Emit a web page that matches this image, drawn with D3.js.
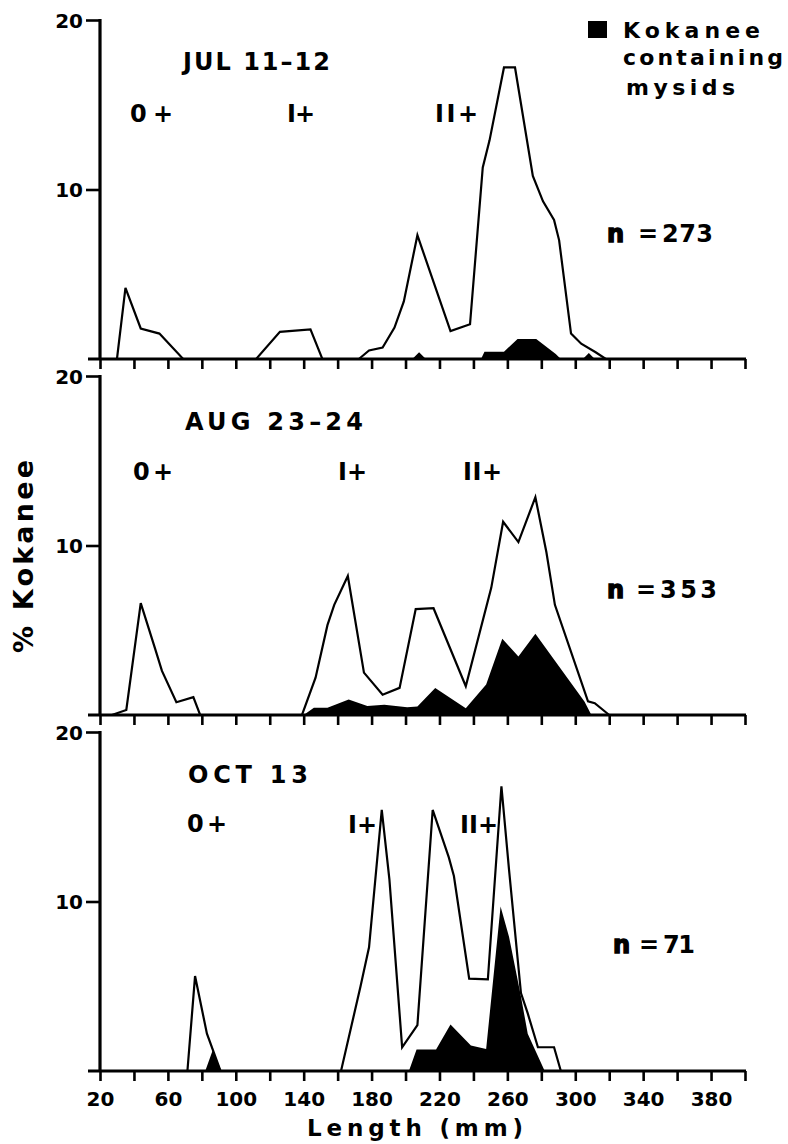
<!DOCTYPE html>
<html><head><meta charset="utf-8">
<script src="https://cdn.jsdelivr.net/npm/d3@7"></script>
<style>
html,body{margin:0;padding:0;background:#fff;}
text{font-family:"DejaVu Sans",Verdana,sans-serif;font-weight:bold;fill:#000;}
</style></head>
<body><svg id="c" width="788" height="1144"></svg>
<script>
// ---- data (length mm, % kokanee) ----
const julLen = [20,30,35,44,55,69,112,126,144,151,172.5,178.5,186.5,193.5,199,207,226.5,238,245.5,249.5,258,264.5,275,281,287.5,290.5,297.5,303.5,312,318,400];
const julPct = [0,0,4.2,1.8,1.5,0,0,1.6,1.75,0,0,0.5,0.68,1.85,3.4,7.3,1.65,2.05,11.3,12.9,17.2,17.2,10.8,9.3,8.2,7.0,1.5,0.9,0.4,0,0];
const julMysLen = [20,204,208,212,244.5,246.5,258,266,277,288.5,291.5,304.5,308,311.5,400];
const julMysPct = [0,0,0.4,0,0,0.43,0.43,1.18,1.18,0.3,0,0,0.35,0,0];

const augLen = [20,27,35.5,44,52.5,56.5,65,75,79,139,147,154,158,166,175.5,186.5,196.5,206,216.5,235.5,250.5,257.5,266.5,276.5,283,288,307.5,311.5,320,400];
const augPct = [0,0,0.3,6.6,3.9,2.6,0.75,1.05,0,0,2.2,5.3,6.5,8.2,2.5,1.2,1.6,6.25,6.3,1.7,7.5,11.4,10.2,12.85,9.6,6.5,0.8,0.7,0,0];
const augMysLen = [20,140,146,154,166.5,177.5,187.5,201,207,217.5,235.5,247.5,257,266.5,276.5,305.5,309.5,400];
const augMysPct = [0,0,0.43,0.43,0.92,0.53,0.6,0.45,0.5,1.6,0.4,1.8,4.5,3.45,4.8,0.78,0,0];

const octLen = [20,71.5,76,83,91,162,173.5,178.5,186,190.5,198,207,216,225.5,228.5,237.5,248.5,256.5,261,268,272,278,287.5,291.5,400];
const octPct = [0,0,5.6,2.2,0,0,5.0,7.3,15.4,11.3,1.4,2.7,15.4,12.6,11.5,5.45,5.4,16.8,11.85,4.6,3.4,1.4,1.4,0,0];
const octMysLen = [20,82,86.5,91.5,202,206.5,218,226.5,238.5,247.5,256,261,268,272,282,400];
const octMysPct = [0,0,1.25,0,0,1.27,1.27,2.75,1.5,1.3,9.7,7.9,4.4,2.2,0,0];

const xTicks = d3.range(20, 401, 20);
const xTickLabels = [20,60,100,140,180,220,260,300,340,380];
const yTicks = [10, 20];
const panelTitles = ["JUL 11\u201312","AUG 23\u201324","OCT 13"];
const nLabels = ["273","353","71"];
const ageLabels = ["0+","I+","II+"];
const legendLines = ["Kokanee","containing","mysids"];

// ---- layout ----
const svg = d3.select("#c");
const x = d3.scaleLinear().domain([20,400]).range([100,745]);
const panelTops = [20,376,732];
const PH = 339;
const panels = [
  {len:julLen,pct:julPct,mLen:julMysLen,mPct:julMysPct,
   title:[183,70,147], ages:[[130,122,43],[287,122,28],[435,122,43]], n:[607,242,662,51]},
  {len:augLen,pct:augPct,mLen:augMysLen,mPct:augMysPct,
   title:[185,430,178], ages:[[133,480,40],[338,480,29],[463,480,39]], n:[607,598,660,57]},
  {len:octLen,pct:octPct,mLen:octMysLen,mPct:octMysPct,
   title:[188,783,120], ages:[[187,832,40],[348,833,29],[460,833,38]], n:[613,953,663,32]}
];

function label(g, t, xx, yy, size, len){
  const el = g.append("text").attr("x",xx).attr("y",yy).attr("font-size",size).text(t);
  if (len) el.attr("textLength",len).attr("lengthAdjust","spacing");
  return el;
}

panels.forEach((p,i)=>{
  const top = panelTops[i];
  const y = d3.scaleLinear().domain([0,20]).range([top+PH, top]);
  const g = svg.append("g");
  const mys = p.mLen.map((l,k)=>[l,p.mPct[k]]);
  const tot = p.len.map((l,k)=>[l,p.pct[k]]);
  g.append("path").datum(mys)
    .attr("d", d3.area().x(d=>x(d[0])).y0(y(0)).y1(d=>y(d[1])))
    .attr("fill","#000");
  g.append("path").datum(tot)
    .attr("d", d3.line().x(d=>x(d[0])).y(d=>y(d[1])))
    .attr("fill","none").attr("stroke","#000").attr("stroke-width",2.2).attr("stroke-linejoin","miter");
  // x axis
  const xa = d3.axisBottom(x).tickValues(xTicks).tickSize(10)
    .tickFormat(i===2 ? (d=> xTickLabels.includes(d)? d : "") : "");
  const gx = g.append("g").attr("transform",`translate(0,${y(0)})`).call(xa);
  gx.select(".domain").remove();
  gx.selectAll(".tick line").attr("stroke","#000").attr("stroke-width",2.6);
  gx.selectAll(".tick text").attr("font-size",20).attr("dy","1.1em")
    .style("font-family","'DejaVu Sans',sans-serif").style("font-weight","bold");
  g.append("line").attr("x1",88).attr("x2",746).attr("y1",y(0)).attr("y2",y(0))
    .attr("stroke","#000").attr("stroke-width",3.2);
  // y axis
  const ya = d3.axisLeft(y).tickValues(yTicks).tickSize(14).tickFormat(d3.format("d"));
  const gy = g.append("g").attr("transform",`translate(${x(20)},0)`).call(ya);
  gy.select(".domain").remove();
  gy.selectAll(".tick line").attr("stroke","#000").attr("stroke-width",2.6);
  gy.selectAll(".tick text").attr("font-size",20).attr("x",-17).attr("dy","0.36em")
    .style("font-family","'DejaVu Sans',sans-serif").style("font-weight","bold");
  g.append("line").attr("x1",x(20)).attr("x2",x(20)).attr("y1",y(20)-1).attr("y2",y(0))
    .attr("stroke","#000").attr("stroke-width",3.2);
  // labels
  label(g, panelTitles[i], p.title[0], p.title[1], 24, p.title[2]);
  ageLabels.forEach((a,k)=> label(g, a, p.ages[k][0], p.ages[k][1], 24, p.ages[k][2]));
  const nt = g.append("text").attr("x",p.n[0]).attr("y",p.n[1]).attr("font-size",24);
  nt.append("tspan").attr("stroke","#000").attr("stroke-width",1.4).text("n");
  nt.append("tspan").attr("x",p.n[2]-24).text("=");
  label(g, nLabels[i], p.n[2], p.n[1], 24, p.n[3]);
});

// legend
svg.append("rect").attr("x",588).attr("y",21).attr("width",19).attr("height",17).attr("fill","#000");
legendLines.forEach((t,k)=>{
  label(svg, t, [623,623,626][k], [38,65,95][k], 22, [137,160,109][k]);
});

// axis titles
label(svg, "Length (mm)", 307, 1136, 23, 216);
svg.append("text").attr("transform","translate(33,653) rotate(-90)")
  .attr("font-size",27).attr("textLength",193).attr("lengthAdjust","spacing").text("% Kokanee");
</script></body></html>
